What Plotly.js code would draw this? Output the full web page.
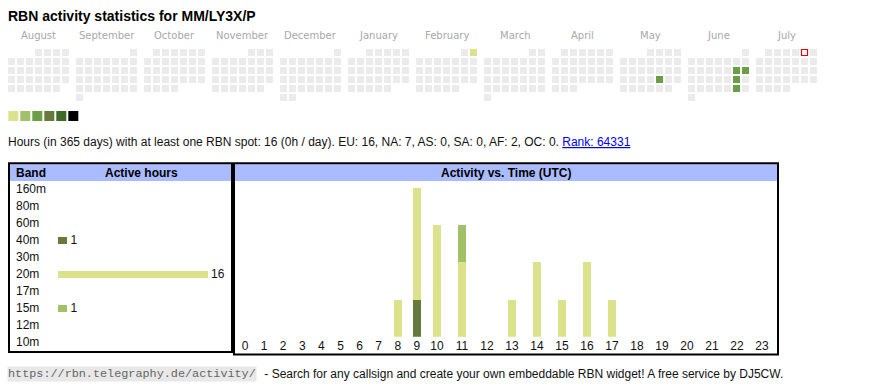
<!DOCTYPE html>
<html>
<head>
<meta charset="utf-8">
<script src="https://cdn.plot.ly/plotly-3.0.1.min.js"></script>
<style>
html,body{margin:0;padding:0;background:#fff;}
#chart{width:870px;height:390px;}
</style>
</head>
<body>
<div id="chart"></div>
<script>
// ---------- DATA ----------
var callsign = 'MM/LY3X/P';
var monthNames = ['August','September','October','November','December','January','February','March','April','May','June','July'];
var monthYears = [2024,2024,2024,2024,2024,2025,2025,2025,2025,2025,2025,2025];
var monthIdx   = [7,8,9,10,11,0,1,2,3,4,5,6];
var activeDays   = ['2025-02-02','2025-05-23','2025-06-14','2025-06-15','2025-06-21','2025-06-28'];
var activeLevels = [0,2,2,2,2,2];
var todayDate = '2025-07-05';
var levelColors = ['#dbe28b','#a0c16a','#6a9f48','#667a3c','#3d6b29','#000000'];

var bands = ['160m','80m','60m','40m','30m','20m','17m','15m','12m','10m'];
var bandHours = [0,0,0,1,0,16,0,1,0,0];
var bandColors = ['#b0b0b0','#b0b0b0','#b0b0b0','#667a3c','#b0b0b0','#dbe28b','#b0b0b0','#a0c16a','#b0b0b0','#b0b0b0'];

var hours = [0,1,2,3,4,5,6,7,8,9,10,11,12,13,14,15,16,17,18,19,20,21,22,23];
var h40 = [0,0,0,0,0,0,0,0,0,1,0,0,0,0,0,0,0,0,0,0,0,0,0,0];
var h20 = [0,0,0,0,0,0,0,0,1,3,3,2,0,1,2,1,2,1,0,0,0,0,0,0];
var h15 = [0,0,0,0,0,0,0,0,0,0,0,1,0,0,0,0,0,0,0,0,0,0,0,0];
var hourBands = ['40m','20m','15m'];
var hourSeries = [h40,h20,h15];

var statsText = 'Hours (in 365 days) with at least one RBN spot: 16 (0h / day). EU: 16, NA: 7, AS: 0, SA: 0, AF: 2, OC: 0. ';
var rankText = 'Rank: 64331';
var urlText = 'https://rbn.telegraphy.de/activity/';
var footText = ' - Search for any callsign and create your own embeddable RBN widget! A free service by DJ5CW.';

// ---------- GEOMETRY HELPERS ----------
var W = 870, H = 390;
function fx(px){return px/W;}
function fy(py){return 1-py/H;}
var FONT = 'Liberation Sans, Arial, sans-serif';
var FS = 12;
var CAL_PITCH = 9, CAL_X0 = 11.5, CAL_Y0 = 52.5, MONTH_STEP = 68/9;
function cx(px){return (px-CAL_X0)/CAL_PITCH;}
function cy(py){return (py-CAL_Y0)/CAL_PITCH;}

// ---------- CALENDAR ----------
var calX=[], calY=[], calC=[], todayX=[], todayY=[];
function pad(n){return (n<10?'0':'')+n;}
for (var i=0;i<monthNames.length;i++){
  var y=monthYears[i], m=monthIdx[i];
  var first=(new Date(Date.UTC(y,m,1)).getUTCDay()+6)%7;
  var nd=new Date(Date.UTC(y,m+1,0)).getUTCDate();
  for (var d=1; d<=nd; d++){
    var p=first+d-1, col=p%7, row=Math.floor(p/7);
    var ds=y+'-'+pad(m+1)+'-'+pad(d);
    var xx=i*MONTH_STEP+col, yy=row;
    var k=activeDays.indexOf(ds);
    if (ds===todayDate){ todayX.push(xx); todayY.push(yy); continue; }
    calX.push(xx); calY.push(yy);
    calC.push(k>=0 ? levelColors[activeLevels[k]] : '#ebebeb');
  }
}
var legX=[], legY=[];
for (var j=0;j<levelColors.length;j++){ legX.push(cx(13.3+12*j)); legY.push(cy(116)); }

var traces=[];
traces.push({type:'scatter',mode:'markers',x:calX,y:calY,xaxis:'x4',yaxis:'y4',
  marker:{symbol:'square',size:7,color:calC,line:{width:0}},hoverinfo:'skip'});
traces.push({type:'scatter',mode:'markers',x:todayX,y:todayY,xaxis:'x4',yaxis:'y4',
  marker:{symbol:'square',size:6,color:'#ffffff',line:{width:1.2,color:'#ee0000'}},hoverinfo:'skip'});
traces.push({type:'scatter',mode:'markers',x:legX,y:legY,xaxis:'x4',yaxis:'y4',
  marker:{symbol:'square',size:10,color:levelColors,line:{width:0}},hoverinfo:'skip'});

// ---------- BAND BARS ----------
traces.push({type:'bar',orientation:'h',y:bands,x:bandHours,xaxis:'x3',yaxis:'y3',
  width:0.41, marker:{color:bandColors},
  text:bandHours.map(function(v){return v>0?String(v):'';}),
  textposition:'outside', constraintext:'none', cliponaxis:false,
  textfont:{family:FONT,size:FS,color:'#111'}, hoverinfo:'skip'});

// ---------- HOUR BARS ----------
var maxStack=0;
for (var hh=0; hh<hours.length; hh++){
  var s=0; for (var b=0;b<hourSeries.length;b++) s+=hourSeries[b][hh];
  if (s>maxStack) maxStack=s;
}
for (var b=0;b<hourBands.length;b++){
  var col=bandColors[bands.indexOf(hourBands[b])];
  traces.push({type:'bar',x:hours.slice(0,10),y:hourSeries[b].slice(0,10),xaxis:'x',yaxis:'y',
    width:0.419,marker:{color:col},hoverinfo:'skip'});
  traces.push({type:'bar',x:hours.slice(10),y:hourSeries[b].slice(10),xaxis:'x2',yaxis:'y2',
    width:0.32,marker:{color:col},hoverinfo:'skip'});
}

// ---------- LAYOUT ----------
var tickFont={family:FONT,size:FS,color:'#111'};
var hidden={visible:false,showgrid:false,zeroline:false,fixedrange:true};
function ax(o){var r={};for(var k in hidden)r[k]=hidden[k];for(var k2 in o)r[k2]=o[k2];return r;}

var layout={
  width:W,height:H,margin:{l:0,r:0,t:0,b:0,pad:0},
  paper_bgcolor:'#ffffff',plot_bgcolor:'rgba(0,0,0,0)',
  showlegend:false,barmode:'stack',
  xaxis:{domain:[fx(235.45),fx(424.54)],range:[-0.5,9.4],anchor:'y',tickvals:hours.slice(0,10),
    ticktext:hours.slice(0,10).map(String),showgrid:false,zeroline:false,showline:false,ticks:'',
    tickfont:tickFont,fixedrange:true,ticklabelstandoff:0},
  yaxis:ax({domain:[fy(336.7),fy(188)],range:[0,maxStack],anchor:'x'}),
  xaxis2:{domain:[fx(424.54),fx(774.5)],range:[9.5,23.5],anchor:'y2',tickvals:hours.slice(10),
    ticktext:hours.slice(10).map(String),showgrid:false,zeroline:false,showline:false,ticks:'',
    tickfont:tickFont,fixedrange:true,ticklabelstandoff:0},
  yaxis2:ax({domain:[fy(336.7),fy(188)],range:[0,maxStack],anchor:'x2'}),
  xaxis3:ax({domain:[fx(58),fx(208)],range:[0,16],anchor:'y3'}),
  yaxis3:ax({domain:[fy(350.8),fy(180.8)],type:'category',categoryarray:bands,categoryorder:'array',range:[9.5,-0.5],anchor:'x3'}),
  xaxis4:ax({domain:[0,1],range:[cx(0),cx(W)],anchor:'y4'}),
  yaxis4:ax({domain:[0,1],range:[cy(H),cy(0)],anchor:'x4'}),
  shapes:[
    {type:'rect',xref:'paper',yref:'paper',x0:fx(9),x1:fx(232),y0:fy(164.3),y1:fy(181),fillcolor:'#aabbff',line:{width:0},layer:'below'},
    {type:'rect',xref:'paper',yref:'paper',x0:fx(234),x1:fx(778),y0:fy(164.3),y1:fy(181),fillcolor:'#aabbff',line:{width:0},layer:'below'},
    {type:'rect',xref:'paper',yref:'paper',x0:fx(9),x1:fx(232),y0:fy(163.3),y1:fy(352),line:{width:2,color:'#000'},fillcolor:'rgba(0,0,0,0)'},
    {type:'rect',xref:'paper',yref:'paper',x0:fx(234),x1:fx(778),y0:fy(163.3),y1:fy(354.5),line:{width:2,color:'#000'},fillcolor:'rgba(0,0,0,0)'}
  ],
  annotations:[]
};
var A=layout.annotations;
A.push({xref:'paper',yref:'paper',x:fx(6.3),y:fy(16),xanchor:'left',yanchor:'middle',showarrow:false,
  text:'<b>RBN activity statistics for '+callsign+'</b>',font:{family:FONT,size:14,color:'#000'}});
for (var i=0;i<monthNames.length;i++){
  A.push({xref:'x4',yref:'y4',x:i*MONTH_STEP+3,y:cy(35),xanchor:'center',yanchor:'middle',showarrow:false,
    text:monthNames[i],font:{family:'DejaVu Sans, sans-serif',size:10,color:'#a8a8a8'}});
}
A.push({xref:'paper',yref:'paper',x:fx(6),y:fy(142),xanchor:'left',yanchor:'middle',showarrow:false,
  text:statsText+'<span style="color:#0000ee;text-decoration:underline">'+rankText+'</span>',
  font:{family:FONT,size:FS,color:'#111'}});
A.push({xref:'paper',yref:'paper',x:fx(14),y:fy(173.3),xanchor:'left',yanchor:'middle',showarrow:false,
  text:'<b>Band</b>',font:{family:FONT,size:FS,color:'#000'}});
A.push({xref:'paper',yref:'paper',x:fx(141.7),y:fy(173.3),xanchor:'center',yanchor:'middle',showarrow:false,
  text:'<b>Active hours</b>',font:{family:FONT,size:FS,color:'#000'}});
A.push({xref:'paper',yref:'paper',x:fx(505.8),y:fy(173.3),xanchor:'center',yanchor:'middle',showarrow:false,
  text:'<b>Activity vs. Time (UTC)</b>',font:{family:FONT,size:FS,color:'#000'}});
for (var b=0;b<bands.length;b++){
  A.push({xref:'paper',yref:'y3',x:fx(14),y:bands[b],xanchor:'left',yanchor:'middle',showarrow:false,
    text:bands[b],font:{family:FONT,size:FS,color:'#111'}});
}
A.push({xref:'paper',yref:'paper',x:fx(7),y:fy(374),xanchor:'left',yanchor:'middle',showarrow:false,
  text:urlText,font:{family:'Liberation Mono, monospace',size:11.8,color:'#666'},bgcolor:'#e8e8e8',borderpad:0});
A.push({xref:'paper',yref:'paper',x:fx(258.5),y:fy(374),xanchor:'left',yanchor:'middle',showarrow:false,
  text:footText,font:{family:FONT,size:FS,color:'#111'}});

Plotly.newPlot('chart',traces,layout,{displayModeBar:false,staticPlot:true});
</script>
</body>
</html>
